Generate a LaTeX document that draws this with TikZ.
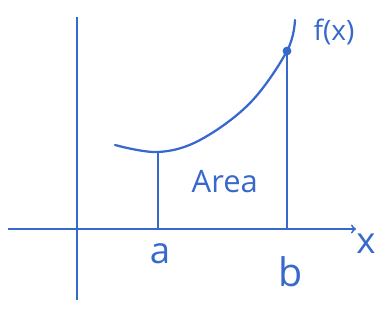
\documentclass[tikz,border=0pt]{standalone}
\usepackage{fontspec}
\setmainfont{Open Sans}
\usepackage{xcolor}
\usepackage{tikz}
\usetikzlibrary{arrows,positioning,calc}
\definecolor{pen}{RGB}{55,105,205}

\begin{document}
\begin{tikzpicture}[
    axis/.style={draw=pen, line width=1.3pt},
    curve/.style={draw=pen, line width=1.6pt, line cap=round},
    bound/.style={draw=pen, line width=1.3pt},
    label/.style={text=pen, font=\fontsize{20}{22}\selectfont},
    biglabel/.style={text=pen, font=\fontsize{26}{28}\selectfont},
    arrow/.style={->, >=to}
]
\useasboundingbox (0,0) rectangle (9.5,8.1);

% Axes
\coordinate (xstart) at (0.2,2.375);
\coordinate (xend) at (8.9,2.375);
\coordinate (ystart) at (1.925,0.6);
\coordinate (yend) at (1.925,7.675);
\draw[axis, arrow] (xstart) -- (xend);
\draw[axis] (ystart) -- (yend);
\node[biglabel] (xlabel) at (9.15,2.0) {x};

% Curve f(x)
\coordinate (fa) at (3.95,4.3);
\coordinate (fb) at (7.175,6.825);
\draw[curve] plot[smooth, tension=0.6] coordinates
    {(2.875,4.475) (fa) (5.0,4.6) (6.25,5.525) (fb) (7.375,7.6)};
\fill[pen] (fb) circle (0.11);
\node[label] (flabel) at (8.35,7.3) {f(x)};

% Bounds of the area
\coordinate (a0) at (3.95,2.375);
\coordinate (b0) at (7.175,2.375);
\draw[bound] (fa) -- (a0);
\draw[bound] (fb) -- (b0);
\node[biglabel] (alabel) at (4.0,1.75) {a};
\node[biglabel, font=\fontsize{28}{30}\selectfont] (blabel) at (7.27,1.3) {b};

% Area
\node[label, font=\fontsize{22}{24}\selectfont] (area) at (5.62,3.55) {Area};

\end{tikzpicture}
\end{document}
